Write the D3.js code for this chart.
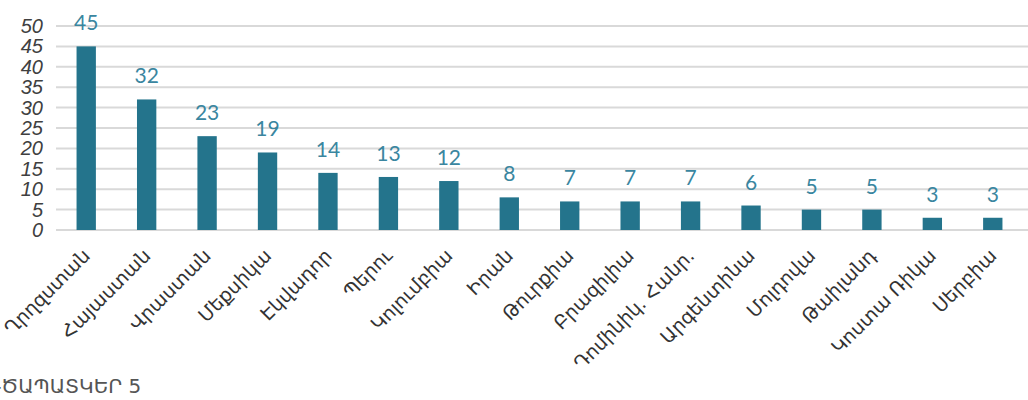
<!DOCTYPE html>
<html>
<head>
<meta charset="utf-8">
<script src="https://cdn.jsdelivr.net/npm/d3@7"></script>
<style>
  body { margin: 0; background: #fff; }
  svg { display: block; }
</style>
</head>
<body>
<script>
const countries = ['Ղրղզստան', 'Հայաստան', 'Վրաստան', 'Մեքսիկա', 'Էկվադոր', 'Պերու', 'Կոլումբիա', 'Իրան',
  'Թուրքիա', 'Բրազիլիա', 'Դոմինիկ. Հանր.', 'Արգենտինա', 'Մոլդովա', 'Թաիլանդ', 'Կոստա Ռիկա', 'Սերբիա'];
const values = [45, 32, 23, 19, 14, 13, 12, 8, 7, 7, 7, 6, 5, 5, 3, 3];
const yTicks = [0, 5, 10, 15, 20, 25, 30, 35, 40, 45, 50];
const caption = 'ԳԾԱՊԱՏԿԵՐ 5';

const w = 1028;
const h = 400;
const svg = d3.select('body').append('svg').attr('width', w).attr('height', h);

const x = d3.scaleBand().domain(countries).range([56, 1023]).paddingInner(0.68).paddingOuter(0.34);
const y = d3.scaleLinear().domain([0, 50]).range([230, 26]);

// grid lines
svg.append('g')
  .selectAll('line')
  .data(yTicks)
  .enter()
  .append('line')
  .attr('x1', 56)
  .attr('x2', w)
  .attr('y1', (d) => y(d))
  .attr('y2', (d) => y(d))
  .attr('stroke', '#d9d9d9')
  .attr('stroke-width', 2);

// y tick labels
svg.append('g')
  .selectAll('text')
  .data(yTicks)
  .enter()
  .append('text')
  .attr('x', 43)
  .attr('y', (d) => y(d) + 7)
  .attr('text-anchor', 'end')
  .attr('font-family', 'Liberation Sans, sans-serif')
  .attr('font-style', 'italic')
  .attr('font-size', 20)
  .attr('fill', '#404040')
  .text((d) => d);

// bars
svg.append('g')
  .selectAll('rect')
  .data(values)
  .enter()
  .append('rect')
  .attr('x', (d, i) => x(countries[i]))
  .attr('y', (d) => y(d))
  .attr('width', x.bandwidth())
  .attr('height', (d) => y(0) - y(d))
  .attr('fill', '#24748c');

// value labels
svg.append('g')
  .selectAll('text')
  .data(values)
  .enter()
  .append('text')
  .attr('x', (d, i) => x(countries[i]) + x.bandwidth() / 2)
  .attr('y', (d) => y(d) - 16)
  .attr('text-anchor', 'middle')
  .attr('font-family', 'Lato, sans-serif')
  .attr('font-size', 21)
  .attr('fill', '#3a86a0')
  .text((d) => d);

// category labels, rotated
svg.append('g')
  .selectAll('text')
  .data(countries)
  .enter()
  .append('text')
  .attr('transform', (d) => `translate(${x(d) + x.bandwidth() / 2 + 5},${257}) rotate(-45)`)
  .attr('text-anchor', 'end')
  .attr('font-family', 'DejaVu Sans, sans-serif')
  .attr('font-size', 19)
  .attr('fill', '#333')
  .text((d) => d);

svg.append('text')
  .attr('x', -14)
  .attr('y', 393)
  .attr('font-family', 'DejaVu Sans, sans-serif')
  .attr('font-size', 20)
  .attr('fill', '#555')
  .text(caption);
</script>
</body>
</html>
